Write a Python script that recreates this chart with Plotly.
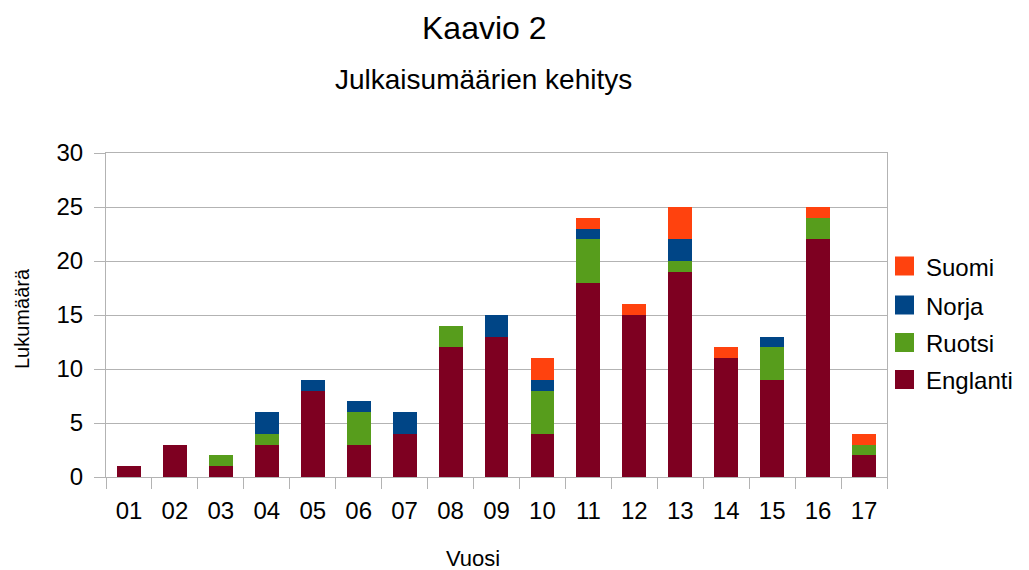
import plotly.graph_objects as go

years = ["01","02","03","04","05","06","07","08","09","10","11","12","13","14","15","16","17"]
englanti = [1,3,1,3,8,3,4,12,13,4,18,15,19,11,9,22,2]
ruotsi =   [0,0,1,1,0,3,0,2,0,4,4,0,1,0,3,2,1]
norja =    [0,0,0,2,1,1,2,0,2,1,1,0,2,0,1,0,0]
suomi =    [0,0,0,0,0,0,0,0,0,2,1,1,3,1,0,1,1]

series_names = ["Englanti", "Ruotsi", "Norja", "Suomi"]
series_values = [englanti, ruotsi, norja, suomi]
series_colors = ["#7e0021", "#579d1c", "#004586", "#ff420e"]

fig = go.Figure()
for name, vals, col in zip(series_names, series_values, series_colors):
    fig.add_trace(go.Bar(x=years, y=vals, name=name, showlegend=False,
                         marker=dict(color=col, line=dict(width=0))))

font = "Liberation Sans, Arial, sans-serif"
OFF = 8  # page body margin
W, H = 1029 - OFF, 570 - OFF
L, R, T, B = 106 - OFF, 887 - OFF, 153 - OFF, 477 - OFF
pw, ph = R - L, B - T

def px(x):
    return (x - OFF - L) / pw

def py(y):
    return (B - (y - OFF)) / ph

annotations = [
    dict(text="Kaavio 2", x=px(484), y=py(28), font=dict(size=32)),
    dict(text="Julkaisumäärien kehitys", x=px(483), y=py(79), font=dict(size=28)),
    dict(text="Lukumäärä", x=px(22), y=py(319), textangle=-90, font=dict(size=20)),
    dict(text="Vuosi", x=px(473), y=py(558), font=dict(size=22)),
]
for a in annotations:
    a.update(xref="paper", yref="paper", showarrow=False, xanchor="center", yanchor="middle")

shapes = []
legend_y = [266, 305, 342.5, 379.5]
for i, idx in enumerate([3, 2, 1, 0]):
    cy = legend_y[i]
    shapes.append(dict(type="rect", xref="paper", yref="paper",
                       x0=px(895), x1=px(914), y0=py(cy - 9.5), y1=py(cy + 9.5),
                       fillcolor=series_colors[idx], line=dict(width=0)))
    annotations.append(dict(text=series_names[idx], x=px(924), y=py(cy + 1), xref="paper", yref="paper",
                            showarrow=False, xanchor="left", yanchor="middle", font=dict(size=24)))

fig.update_layout(
    barmode="stack",
    bargap=0.48,
    width=W, height=H,
    margin=dict(l=L, r=W - R, t=T, b=H - B, autoexpand=False),
    paper_bgcolor="white", plot_bgcolor="white",
    font=dict(family=font, color="black"),
    showlegend=False,
    annotations=annotations,
    shapes=shapes,
)
fig.update_xaxes(
    type="category", tickson="boundaries", ticks="outside", ticklen=11, tickcolor="#b3b3b3",
    showline=True, linecolor="#b3b3b3", mirror=True, showgrid=False,
    tickfont=dict(size=24), ticklabelstandoff=12,
)
fig.update_yaxes(
    range=[0, 30], dtick=5, ticks="outside", ticklen=11, tickcolor="#b3b3b3",
    showline=True, linecolor="#b3b3b3", mirror=True, showgrid=True, gridcolor="#b3b3b3",
    zeroline=False, tickfont=dict(size=24), ticklabelstandoff=6,
)
fig.write_html("out.html")
